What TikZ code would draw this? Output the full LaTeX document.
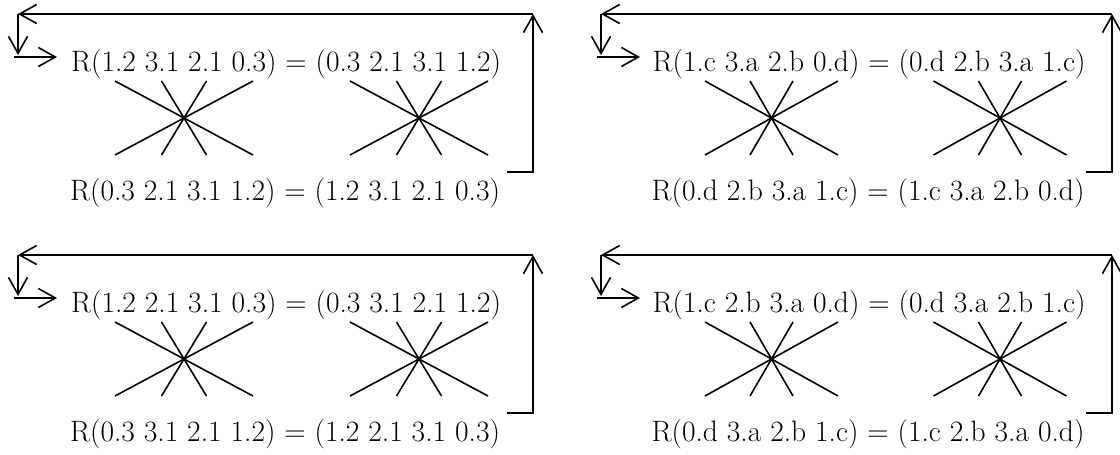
\documentclass[tikz,border=0pt]{standalone}
\usepackage{fontspec}
\usetikzlibrary{arrows.meta}
\begin{document}
\begin{tikzpicture}[x=1pt, y=-1pt, every node/.style={font=\fontsize{29.5}{34}\selectfont, inner sep=0pt},
  arr/.style={-{Straight Barb[length=17pt,width=19pt]}, line width=1.6pt},
  spoke/.style={line width=1.6pt}]
\useasboundingbox (0,0) rectangle (1120,455);
\foreach \n/\sx/\sy/\r/\ca/\cb/\o/\i/\up/\dn in {
  1/0/0/533/184/419/69/22.5/{R(1.2 3.1 2.1 0.3) = (0.3 2.1 3.1 1.2)}/{R(0.3 2.1 3.1 1.2) = (1.2 3.1 2.1 0.3)},
  2/583/0/529/188.5/417/66.5/21.5/{R(1.c 3.a 2.b 0.d) = (0.d 2.b 3.a 1.c)}/{R(0.d 2.b 3.a 1.c) = (1.c 3.a 2.b 0.d)},
  3/0/241/533/184/419/69/22.5/{R(1.2 2.1 3.1 0.3) = (0.3 3.1 2.1 1.2)}/{R(0.3 3.1 2.1 1.2) = (1.2 2.1 3.1 0.3)},
  4/583/241/529/188.5/417/66.5/21.5/{R(1.c 2.b 3.a 0.d) = (0.d 3.a 2.b 1.c)}/{R(0.d 3.a 2.b 1.c) = (1.c 2.b 3.a 0.d)}}
{
\begin{scope}[shift={(\sx,\sy)}]
\coordinate (nw\n) at (18,14);
\coordinate (ne\n) at (\r,14);
\coordinate (se\n) at (\r,172);
\coordinate (sw\n) at (\r-26,172);
\coordinate (dn\n) at (18,55);
\coordinate (in\n) at (14,57);
\coordinate (go\n) at (57,57);
\node[anchor=base] (t\n) at (286,71) {\up};
\node[anchor=base] (b\n) at (285,200) {\dn};
\draw[arr] (sw\n) -- (se\n) -- (ne\n);
\draw[arr] (ne\n) -- (nw\n);
\draw[arr] (nw\n) -- (dn\n);
\draw[arr] (in\n) -- (go\n);
\foreach \c in {\ca,\cb}
  \foreach \s in {\o,\i}
    \draw[spoke] (\c-\s,81) -- (\c+\s,155) (\c+\s,81) -- (\c-\s,155);
\end{scope}
}
\end{tikzpicture}
\end{document}
